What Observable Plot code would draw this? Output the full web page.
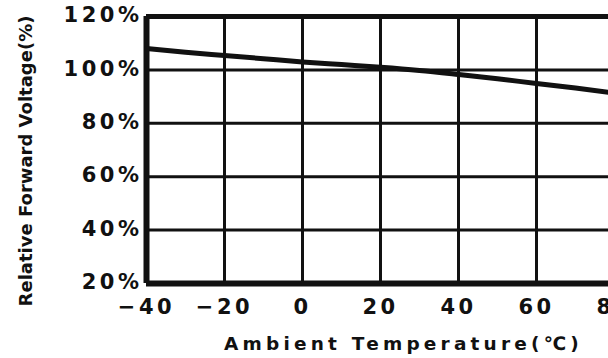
<!DOCTYPE html>
<html>
<head>
<meta charset="utf-8">
<script src="https://cdn.jsdelivr.net/npm/d3@7"></script>
<script src="https://cdn.jsdelivr.net/npm/@observablehq/plot@0.6"></script>
<style>
  html, body { margin: 0; padding: 0; background: #fff; overflow: hidden; width: 608px; height: 358px; }
  #chart svg text { letter-spacing: 3.5px; }
  #chart svg .title text { letter-spacing: 0; }
  #chart svg .xtitle text { letter-spacing: 4.2px; }
</style>
</head>
<body>
<div id="chart"></div>
<script>
// Ambient temperature (°C) and relative forward voltage (%)
const temperature = [-40, -30, -20, -10, 0, 10, 20, 30, 40, 50, 60, 70, 80];
const relVoltage  = [108.0, 106.6, 105.4, 104.2, 103.0, 102.0, 101.0, 99.8, 98.3, 96.7, 94.9, 93.2, 91.3];

// Axis ticks
const xTicks = [-40, -20, 0, 20, 40, 60, 80];
const yTicks = [20, 40, 60, 80, 100, 120];

const xTitle = "Ambient Temperature(℃)";
const yTitle = "Relative Forward Voltage(%)";

const data = temperature.map((t, i) => ({t, v: relVoltage[i]}));

const ink = "#111";

const chart = Plot.plot({
  width: 700,
  height: 358,
  marginLeft: 146,
  marginTop: 16,
  marginBottom: 75,
  marginRight: 8,
  style: {fontFamily: "DejaVu Sans", fontWeight: "bold", maxWidth: "none", background: "#fff", color: ink},
  x: {domain: [-40, 100]},
  y: {domain: [20, 120]},
  marks: [
    // inner grid
    Plot.gridY(yTicks.slice(1, -1), {stroke: ink, strokeOpacity: 1, strokeWidth: 3}),
    Plot.gridX(xTicks.slice(1), {stroke: ink, strokeOpacity: 1, strokeWidth: 3}),
    // frame edges
    Plot.ruleY([yTicks[yTicks.length - 1]], {stroke: ink, strokeWidth: 5}),
    Plot.ruleY([yTicks[0]], {stroke: ink, strokeWidth: 6}),
    Plot.ruleX([xTicks[0]], {stroke: ink, strokeWidth: 6}),
    // curve
    Plot.line(data, {x: "t", y: "v", stroke: ink, strokeWidth: 5, curve: "monotone-x"}),
    // tick labels
    Plot.axisY(yTicks, {
      tickSize: 0, tickPadding: 4, fontSize: 21, fill: ink, dy: -1,
      tickFormat: d => d + "%", label: null
    }),
    Plot.axisX(xTicks, {
      tickSize: 0, tickPadding: 16, fontSize: 21, fill: ink,
      tickFormat: d => (d < 0 ? "\u2212" + Math.abs(d) : String(d)), label: null
    }),
    // axis titles
    Plot.text([xTitle], {
      text: d => d, frameAnchor: "bottom", dx: -16, dy: 66,
      fontSize: 18.5, fill: ink, className: "xtitle"
    }),
    Plot.text([yTitle], {
      text: d => d, frameAnchor: "left", textAnchor: "middle", rotate: -90, dx: -120, dy: 11,
      fontSize: 18, fill: ink, className: "title"
    })
  ]
});

document.getElementById("chart").append(chart);
</script>
</body>
</html>
